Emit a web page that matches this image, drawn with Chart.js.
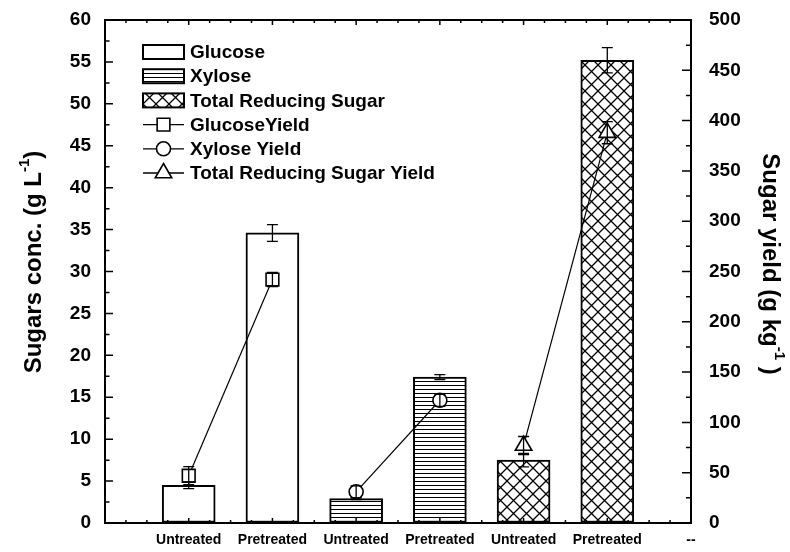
<!DOCTYPE html>
<html>
<head>
<meta charset="utf-8">
<script src="https://cdn.jsdelivr.net/npm/chart.js@4/dist/chart.umd.min.js"></script>
<style>
  html, body { margin: 0; padding: 0; background: #fff; }
</style>
</head>
<body>
<canvas id="chart" width="790" height="552"></canvas>
<script>
/* data */
const CATEGORIES = ['', 'Untreated', 'Pretreated', 'Untreated', 'Pretreated', 'Untreated', 'Pretreated', '--'];

const GLUCOSE = [null, 4.5, 34.6, null, null, null, null, null];
const GLUCOSE_ERR = [null, 0.4, 1.0, null, null, null, null, null];
const XYLOSE = [null, null, null, 2.9, 17.4, null, null, null];
const XYLOSE_ERR = [null, null, null, 0.1, 0.3, null, null, null];
const TOTAL_SUGAR = [null, null, null, null, null, 7.5, 55.2, null];
const TOTAL_SUGAR_ERR = [null, null, null, null, null, 0.8, 1.5, null];

const GLUCOSE_YIELD = [null, 47, 242, null, null, null, null, null];
const GLUCOSE_YIELD_ERR = [null, 9, 7, null, null, null, null, null];
const XYLOSE_YIELD = [null, null, null, 31, 122, null, null, null];
const XYLOSE_YIELD_ERR = [null, null, null, 6, 6, null, null, null];
const TOTAL_SUGAR_YIELD = [null, null, null, null, null, 77, 388, null];
const TOTAL_SUGAR_YIELD_ERR = [null, null, null, null, null, 9, 11, null];

const FONT = '"Liberation Sans", Arial, sans-serif';

/* patterns */
const createHatch = (type) => {
  const size = type === 'cross' ? 13 : 4;
  const tile = document.createElement('canvas');
  tile.width = size;
  tile.height = size;
  const c = tile.getContext('2d');
  c.fillStyle = '#fff';
  c.fillRect(0, 0, size, size);
  c.strokeStyle = '#000';
  if (type === 'cross') {
    c.lineWidth = 1.3;
    for (const o of [-size, 0, size]) {
      c.beginPath();
      c.moveTo(o, 0);
      c.lineTo(o + size, size);
      c.moveTo(o + size, 0);
      c.lineTo(o, size);
      c.stroke();
    }
  } else {
    c.lineWidth = 1;
    c.beginPath();
    c.moveTo(0, 1.5);
    c.lineTo(size, 1.5);
    c.stroke();
  }
  return document.getElementById('chart').getContext('2d').createPattern(tile, 'repeat');
};

/* plugins */
const errorBarPlugin = {
  id: 'errorBars',
  afterDatasetsDraw(chart) {
    const ctx = chart.ctx;
    chart.data.datasets.forEach((dataset, index) => {
      if (!dataset.errors) return;
      const meta = chart.getDatasetMeta(index);
      const scale = chart.scales[dataset.yAxisID];
      ctx.save();
      ctx.strokeStyle = '#000';
      ctx.lineWidth = 1.3;
      dataset.data.forEach((value, i) => {
        const err = dataset.errors[i];
        if (value === null || err === null) return;
        const x = meta.data[i].x;
        const top = scale.getPixelForValue(value + err);
        const bottom = scale.getPixelForValue(value - err);
        const half = 5.5;
        ctx.beginPath();
        ctx.moveTo(x, top);
        ctx.lineTo(x, bottom);
        ctx.moveTo(x - half, top);
        ctx.lineTo(x + half, top);
        ctx.moveTo(x - half, bottom);
        ctx.lineTo(x + half, bottom);
        ctx.stroke();
      });
      ctx.restore();
    });
  },
};

const drawMarker = (ctx, style, x, y, r) => {
  ctx.beginPath();
  if (style === 'rect') {
    const s = r * Math.SQRT1_2;
    ctx.rect(x - s, y - s, 2 * s, 2 * s);
  } else if (style === 'circle') {
    ctx.arc(x, y, r, 0, Math.PI * 2);
  } else {
    ctx.moveTo(x, y - r);
    ctx.lineTo(x + Math.sin(Math.PI * 2 / 3) * r, y + r / 2);
    ctx.lineTo(x - Math.sin(Math.PI * 2 / 3) * r, y + r / 2);
    ctx.closePath();
  }
  ctx.fillStyle = '#fff';
  ctx.fill();
  ctx.stroke();
};

const legendPlugin = {
  id: 'insideLegend',
  afterDraw(chart) {
    const ctx = chart.ctx;
    const x0 = 143;
    const y0 = 52;
    const rowHeight = 24.2;
    ctx.save();
    ctx.font = 'bold 19px ' + FONT;
    ctx.textBaseline = 'middle';
    chart.data.datasets.forEach((dataset, i) => {
      const y = y0 + i * rowHeight;
      ctx.strokeStyle = '#000';
      if (dataset.type === 'bar') {
        ctx.lineWidth = 2;
        ctx.fillStyle = dataset.backgroundColor;
        ctx.fillRect(x0, y - 7, 41, 14);
        ctx.strokeRect(x0, y - 7, 41, 14);
      } else {
        ctx.lineWidth = 1.3;
        ctx.beginPath();
        ctx.moveTo(x0, y);
        ctx.lineTo(x0 + 41, y);
        ctx.stroke();
        ctx.lineWidth = 1.6;
        drawMarker(ctx, dataset.pointStyle, x0 + 20.5, y, dataset.legendRadius);
      }
      ctx.fillStyle = '#000';
      ctx.fillText(dataset.label, x0 + 47, y + 1);
    });
    ctx.restore();
  },
};

const drawTitle = (ctx, x, y, angle, parts) => {
  ctx.save();
  ctx.translate(x, y);
  ctx.rotate(angle);
  ctx.fillStyle = '#000';
  ctx.textBaseline = 'middle';
  const big = 'bold 24px ' + FONT;
  const small = 'bold 15px ' + FONT;
  let width = 0;
  parts.forEach((part) => {
    ctx.font = part.sup ? small : big;
    width += ctx.measureText(part.text).width;
  });
  let cursor = -width / 2;
  parts.forEach((part) => {
    ctx.font = part.sup ? small : big;
    ctx.fillText(part.text, cursor, part.sup ? -9 : 0);
    cursor += ctx.measureText(part.text).width;
  });
  ctx.restore();
};

const framePlugin = {
  id: 'frame',
  afterDraw(chart) {
    const ctx = chart.ctx;
    const area = chart.chartArea;
    const yl = chart.scales.y;
    const yr = chart.scales.y1;
    ctx.save();
    ctx.strokeStyle = '#000';
    ctx.lineWidth = 2;
    ctx.beginPath();
    ctx.moveTo(area.left, area.top);
    ctx.lineTo(area.right, area.top);
    ctx.stroke();

    ctx.lineWidth = 1.5;
    ctx.beginPath();
    for (let v = 0; v <= 60; v += 2.5) {
      const py = yl.getPixelForValue(v);
      ctx.moveTo(area.left, py);
      ctx.lineTo(area.left + (v % 5 === 0 ? 8 : 4.5), py);
    }
    for (let v = 0; v <= 500; v += 25) {
      const py = yr.getPixelForValue(v);
      ctx.moveTo(area.right, py);
      ctx.lineTo(area.right - (v % 50 === 0 ? 9 : 5), py);
    }
    const steps = (CATEGORIES.length - 1) * 4;
    for (let k = 0; k <= steps; k++) {
      const px = area.left + (area.right - area.left) * k / steps;
      const len = k % 4 === 0 ? 5 : 3;
      ctx.moveTo(px, area.bottom);
      ctx.lineTo(px, area.bottom - len);
      ctx.moveTo(px, area.top);
      ctx.lineTo(px, area.top + len);
    }
    ctx.stroke();
    ctx.restore();

    drawTitle(ctx, 34, 262, -Math.PI / 2, [
      { text: 'Sugars conc. (g L' },
      { text: '-1', sup: true },
      { text: ')' },
    ]);
    drawTitle(ctx, 770, 264, Math.PI / 2, [
      { text: 'Sugar yield (g kg' },
      { text: '-1', sup: true },
      { text: ' )' },
    ]);
  },
};

/* chart */
const barDataset = (label, data, errors, fill) => ({
  type: 'bar',
  label: label,
  data: data,
  errors: errors,
  yAxisID: 'y',
  backgroundColor: fill,
  borderColor: '#000',
  borderWidth: 2,
  borderSkipped: false,
  barThickness: 53,
  grouped: false,
  order: 1,
});

const lineDataset = (label, data, errors, style, radius) => ({
  type: 'line',
  label: label,
  data: data,
  errors: errors,
  yAxisID: 'y1',
  borderColor: '#000',
  borderWidth: 1.2,
  pointStyle: style,
  pointRadius: radius,
  legendRadius: radius,
  pointBorderWidth: 1.6,
  pointBackgroundColor: '#fff',
  pointBorderColor: '#000',
  spanGaps: false,
  order: 0,
});

// hidden tick marks only push the labels away from the axis line
const hiddenTicks = (length) => ({
  display: true,
  drawOnChartArea: false,
  drawTicks: true,
  tickLength: length,
  tickColor: 'rgba(0,0,0,0)',
});

const createChart = () => {
  const element = document.getElementById('chart');
  return new Chart(element, {
    data: {
      labels: CATEGORIES,
      datasets: [
        barDataset('Glucose', GLUCOSE, GLUCOSE_ERR, '#fff'),
        barDataset('Xylose', XYLOSE, XYLOSE_ERR, createHatch('lines')),
        barDataset('Total Reducing Sugar', TOTAL_SUGAR, TOTAL_SUGAR_ERR, createHatch('cross')),
        lineDataset('GlucoseYield', GLUCOSE_YIELD, GLUCOSE_YIELD_ERR, 'rect', 9),
        lineDataset('Xylose Yield', XYLOSE_YIELD, XYLOSE_YIELD_ERR, 'circle', 7),
        lineDataset('Total Reducing Sugar Yield', TOTAL_SUGAR_YIELD, TOTAL_SUGAR_YIELD_ERR, 'triangle', 9.5),
      ],
    },
    options: {
      responsive: false,
      animation: false,
      layout: { padding: { top: 20, left: 0, right: 0, bottom: 0 } },
      plugins: {
        legend: { display: false },
        tooltip: { enabled: false },
      },
      scales: {
        x: {
          type: 'category',
          offset: false,
          grid: hiddenTicks(9),
          border: { display: true, color: '#000', width: 2 },
          ticks: {
            color: '#000',
            font: { family: FONT, weight: 'bold', size: 14 },
            padding: 0,
            maxRotation: 0,
            autoSkip: false,
          },
          afterFit: (scale) => { scale.height = 29; },
        },
        y: {
          position: 'left',
          min: 0,
          max: 60,
          grid: hiddenTicks(14),
          border: { display: true, color: '#000', width: 2 },
          ticks: {
            stepSize: 5,
            color: '#000',
            font: { family: FONT, weight: 'bold', size: 19 },
            padding: 0,
          },
          afterFit: (scale) => { scale.width = 105; },
        },
        y1: {
          position: 'right',
          min: 0,
          max: 500,
          grid: hiddenTicks(18),
          border: { display: true, color: '#000', width: 2 },
          ticks: {
            stepSize: 50,
            color: '#000',
            font: { family: FONT, weight: 'bold', size: 19 },
            padding: 0,
          },
          afterFit: (scale) => { scale.width = 99; },
        },
      },
    },
    plugins: [errorBarPlugin, framePlugin, legendPlugin],
  });
};

document.addEventListener('DOMContentLoaded', () => {
  createChart();
});
</script>
</body>
</html>
